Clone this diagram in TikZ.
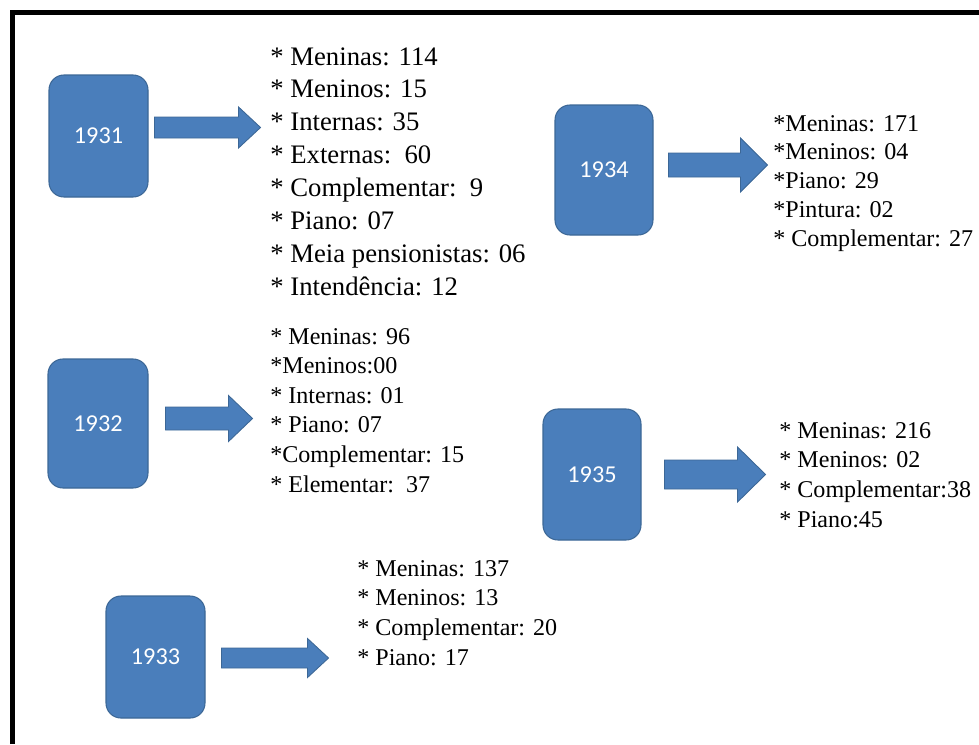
\documentclass[tikz,border=0pt]{standalone}
\usepackage{fontspec}
\setmainfont{Liberation Serif}
\newfontfamily\labelfont{Carlito}
\usetikzlibrary{calc}
\definecolor{boxblue}{HTML}{4A7EBB}
\definecolor{boxline}{HTML}{3C6796}
\tikzset{
	yearbox/.style={draw=boxline, line width=0.6pt, fill=boxblue, rounded corners=8.5pt, text=white, font=\labelfont\fontsize{13.8pt}{16pt}\selectfont, inner sep=0pt},
	blockarrow/.style={draw=boxline, line width=0.5pt, fill=boxblue},
	biglist/.style={anchor=base west, inner sep=0pt, align=left, font=\fontsize{15.2pt}{18.7pt}\selectfont},
	smalllist/.style={anchor=base west, inner sep=0pt, align=left, font=\fontsize{13.7pt}{16.8pt}\selectfont}
}
% fat arrow: start, shaft length, head length, shaft half width, head half width
\def\bigarrow(#1)(#2:#3:#4:#5){\draw[blockarrow] (#1) ++(0,-#4) -- ++(#2,0) -- ++(0,{#4-#5}) -- ++(#3,#5) -- ++(-#3,#5) -- ++(0,{#4-#5}) -- ++(-#2,0) -- cycle;}

\begin{document}
\begin{tikzpicture}[x=0.02cm, y=-0.02cm]
			%%%%% START %%%%%
			\useasboundingbox (0, 0) rectangle (979, 744);
			
			\draw[line width=0.1cm] (12.5, 744) -- (12.5, 12.5) -- (979, 12.5);
			
			\node[yearbox, minimum width=99*0.02cm, minimum height=122*0.02cm] (y1931) at (98.5, 136) {1931};
			\node[yearbox, minimum width=100*0.02cm, minimum height=129*0.02cm] (y1932) at (98, 423.5) {1932};
			\node[yearbox, minimum width=99*0.02cm, minimum height=122*0.02cm] (y1933) at (155.5, 657) {1933};
			\node[yearbox, minimum width=98*0.02cm, minimum height=130*0.02cm] (y1934) at (604, 170) {1934};
			\node[yearbox, minimum width=98*0.02cm, minimum height=131*0.02cm] (y1935) at (592, 474.5) {1935};
			
			\bigarrow([shift={(6,-8.5)}]y1931.east)(84:22:10.5:20.5);
			\bigarrow([shift={(17,-5)}]y1932.east)(63:24:11.5:23);
			\bigarrow([shift={(16,1)}]y1933.east)(86:21:10:19.5);
			\bigarrow([shift={(15,-5)}]y1934.east)(72:27:12:27);
			\bigarrow([shift={(23,0)}]y1935.east)(73:28:14.5:27.5);
			
			% lists are placed by the baseline of their last line
			\node[biglist] (l1931) at (270, 295) {* Meninas: 114\\* Meninos: 15\\* Internas: 35\\* Externas:\ \ 60\\* Complementar:\ \ 9\\* Piano: 07\\* Meia pensionistas: 06\\* Intendência: 12};
			\node[smalllist] (l1932) at (270, 492) {* Meninas: 96\\*Meninos:00\\* Internas: 01\\* Piano: 07\\*Complementar: 15\\* Elementar:\ \ 37};
			\node[smalllist] (l1933) at (357, 665) {* Meninas: 137\\* Meninos: 13\\* Complementar: 20\\* Piano: 17};
			\node[smalllist, font=\fontsize{13.7pt}{16.35pt}\selectfont] (l1934) at (773, 246) {*Meninas: 171\\*Meninos: 04\\*Piano: 29\\*Pintura: 02\\* Complementar: 27};
			\node[smalllist] (l1935) at (779, 527) {* Meninas: 216\\* Meninos: 02\\* Complementar:38\\* Piano:45};
			
			%%%%% END %%%%%
\end{tikzpicture}
\end{document}
